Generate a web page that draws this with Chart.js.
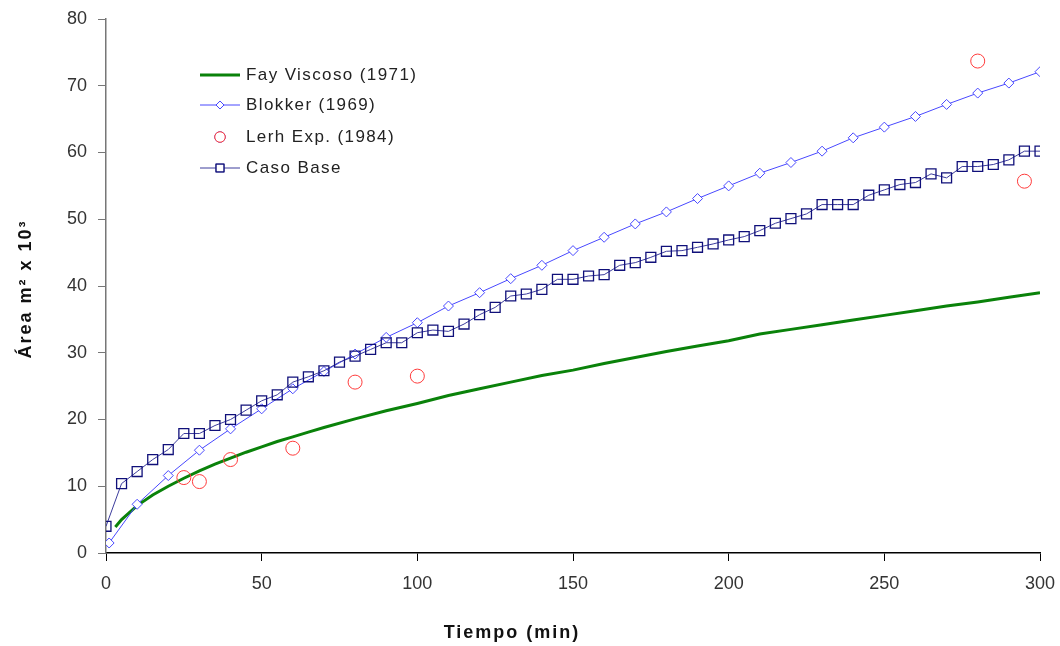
<!DOCTYPE html>
<html>
<head>
<meta charset="utf-8">
<script src="https://cdn.jsdelivr.net/npm/chart.js@4"></script>
<style>
  html, body { margin: 0; padding: 0; background: #fff; }
  #wrap { width: 1060px; height: 646px; }
</style>
</head>
<body>
<div id="wrap"><canvas id="areaChart" width="1060" height="646"></canvas></div>
<script>
const fayTiempo = [3, 5, 10, 15, 20, 25, 30, 35, 40, 45, 50, 55, 60, 65, 70, 80, 90, 100, 110, 120, 130, 140, 150, 160, 170, 180, 190, 200, 210, 220, 230, 240, 250, 260, 270, 280, 290, 300];
const fayArea = [3.9, 5.0, 7.1, 8.7, 10.0, 11.2, 12.3, 13.3, 14.2, 15.1, 15.9, 16.7, 17.4, 18.1, 18.8, 20.1, 21.3, 22.4, 23.6, 24.6, 25.6, 26.6, 27.4, 28.4, 29.3, 30.2, 31.0, 31.8, 32.8, 33.5, 34.2, 34.9, 35.6, 36.3, 37.0, 37.6, 38.3, 39.0];

const blokkerTiempo = [1, 10, 20, 30, 40, 50, 60, 70, 80, 90, 100, 110, 120, 130, 140, 150, 160, 170, 180, 190, 200, 210, 220, 230, 240, 250, 260, 270, 280, 290, 300];
const blokkerArea = [1.5, 7.3, 11.6, 15.4, 18.6, 21.6, 24.6, 27.2, 29.8, 32.3, 34.5, 37.0, 39.0, 41.1, 43.1, 45.3, 47.3, 49.3, 51.1, 53.1, 55.0, 56.9, 58.5, 60.2, 62.2, 63.8, 65.4, 67.2, 68.9, 70.4, 72.1];

const lerhTiempo = [25, 30, 40, 60, 80, 100, 280, 295];
const lerhArea = [11.3, 10.7, 14.0, 15.7, 25.6, 26.5, 73.7, 55.7];

const casoTiempo = [0, 5, 10, 15, 20, 25, 30, 35, 40, 45, 50, 55, 60, 65, 70, 75, 80, 85, 90, 95, 100, 105, 110, 115, 120, 125, 130, 135, 140, 145, 150, 155, 160, 165, 170, 175, 180, 185, 190, 195, 200, 205, 210, 215, 220, 225, 230, 235, 240, 245, 250, 255, 260, 265, 270, 275, 280, 285, 290, 295, 300];
const casoArea = [4.0, 10.4, 12.2, 14.0, 15.5, 17.9, 17.9, 19.1, 20.0, 21.4, 22.8, 23.7, 25.6, 26.4, 27.3, 28.6, 29.5, 30.5, 31.5, 31.5, 33.0, 33.4, 33.2, 34.3, 35.7, 36.8, 38.5, 38.8, 39.5, 41.0, 41.0, 41.5, 41.7, 43.1, 43.5, 44.3, 45.2, 45.3, 45.8, 46.3, 46.9, 47.4, 48.3, 49.4, 50.1, 50.8, 52.2, 52.2, 52.2, 53.6, 54.4, 55.2, 55.5, 56.8, 56.2, 57.9, 57.9, 58.2, 58.9, 60.2, 60.2];

const xTicks = [0, 50, 100, 150, 200, 250, 300];
const yTicks = [0, 10, 20, 30, 40, 50, 60, 70, 80];

const xTitle = "Tiempo (min)";
const yTitle = "Área m² x 10³";

const FONT = "'Liberation Sans', Arial, sans-serif";

function pts(xs, ys) {
  return xs.map((x, i) => ({ x: x, y: ys[i] }));
}

// titles and the inside legend are drawn by hand so they sit where the original has them
const extras = {
  id: 'extras',
  afterDraw(chart) {
    const ctx = chart.ctx;
    ctx.save();
    ctx.fillStyle = '#111';
    ctx.font = "bold 18px " + FONT;
    ctx.letterSpacing = '2px';
    ctx.textAlign = 'center';
    ctx.textBaseline = 'middle';
    ctx.fillText(xTitle, 512, 633);

    ctx.save();
    ctx.translate(26, 289);
    ctx.rotate(-Math.PI / 2);
    ctx.font = "bold 18px " + FONT;
    ctx.letterSpacing = '2px';
    ctx.fillText(yTitle, 0, 0);
    ctx.restore();

    // legend
    ctx.font = "17px " + FONT;
    ctx.letterSpacing = '1.4px';
    ctx.textAlign = 'left';
    const rows = [75, 105, 137, 168];
    chart.data.datasets.forEach((ds, i) => {
      const y = rows[i];
      const x0 = 200, x1 = 240, xm = 220;
      if (ds.showLine !== false) {
        ctx.strokeStyle = ds.borderColor;
        ctx.lineWidth = ds.borderWidth;
        ctx.beginPath();
        ctx.moveTo(x0, y);
        ctx.lineTo(x1, y);
        ctx.stroke();
      }
      if (ds.pointRadius > 0) {
        Chart.helpers.drawPoint(ctx, {
          pointStyle: ds.pointStyle,
          radius: ds.pointRadius * (ds.pointStyle === 'circle' ? 0.75 : 0.8),
          borderWidth: ds.pointBorderWidth,
          rotation: 0
        }, xm, y);
        ctx.fillStyle = '#fff';
        ctx.strokeStyle = ds.pointBorderColor;
        ctx.lineWidth = ds.pointBorderWidth;
        ctx.fill();
        ctx.stroke();
      }
      ctx.fillStyle = '#222';
      ctx.fillText(ds.label, 246, y);
    });
    ctx.restore();
  }
};

const data = {
  datasets: [
    {
      label: "Fay Viscoso (1971)",
      data: pts(fayTiempo, fayArea),
      borderColor: '#0a820a',
      borderWidth: 3,
      pointRadius: 0,
      order: 3
    },
    {
      label: "Blokker (1969)",
      data: pts(blokkerTiempo, blokkerArea),
      borderColor: '#4848ff',
      borderWidth: 1,
      pointStyle: 'rectRot',
      pointRadius: 5,
      pointBorderColor: '#4848ff',
      pointBackgroundColor: '#fff',
      pointBorderWidth: 1,
      order: 2
    },
    {
      label: "Lerh Exp. (1984)",
      data: pts(lerhTiempo, lerhArea),
      showLine: false,
      pointStyle: 'circle',
      pointRadius: 7,
      pointBorderColor: '#ff3b3b',
      pointBackgroundColor: 'rgba(0,0,0,0)',
      pointBorderWidth: 1,
      order: 0
    },
    {
      label: "Caso Base",
      data: pts(casoTiempo, casoArea),
      borderColor: '#3c3c9c',
      borderWidth: 1,
      pointStyle: 'rect',
      pointRadius: 7,
      pointBorderColor: '#10107a',
      pointBackgroundColor: 'rgba(255,255,255,0)',
      pointBorderWidth: 1.3,
      order: 1
    }
  ]
};

const config = {
  type: 'line',
  data: data,
  options: {
    responsive: false,
    animation: false,
    events: [],
    layout: { padding: { left: 0, right: 20, top: 19, bottom: 0 } },
    elements: { line: { tension: 0 } },
    plugins: {
      legend: { display: false },
      tooltip: { enabled: false }
    },
    scales: {
      x: {
        type: 'linear',
        min: 0,
        max: 300,
        afterBuildTicks: s => { s.ticks = xTicks.map(v => ({ value: v })); },
        afterFit: s => { s.height = 93; s.paddingLeft = 0; s.paddingRight = 0; },
        border: { display: true, color: '#000', width: 1.5 },
        grid: { drawOnChartArea: false, drawTicks: true, tickLength: 8, color: '#000' },
        ticks: { color: '#333', padding: 12, font: { family: FONT, size: 18 }, maxRotation: 0 }
      },
      y: {
        min: 0,
        max: 80,
        afterBuildTicks: s => { s.ticks = yTicks.map(v => ({ value: v })); },
        afterFit: s => { s.width = 106; s.paddingTop = 0; s.paddingBottom = 0; },
        border: { display: true, color: '#777', width: 1.5 },
        grid: { drawOnChartArea: false, drawTicks: true, tickLength: 8, color: '#777' },
        ticks: { color: '#333', padding: 11, font: { family: FONT, size: 18 } }
      }
    }
  },
  plugins: [extras]
};

const areaChart = new Chart(document.getElementById('areaChart'), config);
</script>
</body>
</html>
